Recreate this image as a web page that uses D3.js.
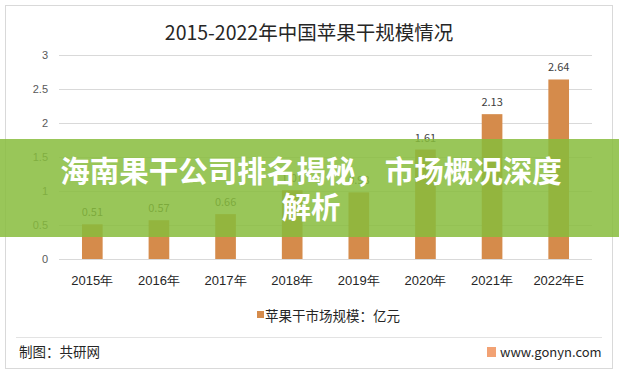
<!DOCTYPE html>
<html><head><meta charset="utf-8">
<script src="https://cdn.jsdelivr.net/npm/d3@7"></script>
<style>body{margin:0;background:#fff;}svg{display:block;font-family:"Noto Sans CJK SC","Microsoft YaHei",sans-serif;}</style>
</head><body>
<script>
const categories = ["2015年","2016年","2017年","2018年","2019年","2020年","2021年","2022年E"];
const values = [0.51,0.57,0.66,1.01,0.98,1.61,2.13,2.64];
const valueLabels = ["0.51","0.57","0.66","1.01","0.98","1.61","2.13","2.64"];
const yTicks = [0,0.5,1,1.5,2,2.5,3];
const title = "2015-2022年中国苹果干规模情况";
const legendLabel = "苹果干市场规模：亿元";
const bannerLines = ["海南果干公司排名揭秘，市场概况深度","解析"];

const W = 619, H = 376;
const svg = d3.select("body").append("svg").attr("width", W).attr("height", H);
svg.append("rect").attr("x",0).attr("y",0).attr("width",W).attr("height",H).attr("fill","#fff");
svg.append("rect").attr("x",5.5).attr("y",5.5).attr("width",607).attr("height",363)
  .attr("fill","none").attr("stroke","#d9d9d9");

svg.append("text").attr("x",309).attr("y",40).attr("text-anchor","middle")
  .attr("font-size",19.5).attr("fill","#262626").text(title);

const x = d3.scaleBand().domain(categories).range([59,592]).paddingInner(0.69).paddingOuter(0.345);
const y = d3.scaleLinear().domain([0,3]).range([259,55]);

const grid = svg.append("g");
grid.selectAll("line").data(yTicks).join("line")
  .attr("x1",59).attr("x2",592).attr("y1",d=>Math.round(y(d))+0.5).attr("y2",d=>Math.round(y(d))+0.5)
  .attr("stroke","#d9d9d9").attr("stroke-width",1);

const yAxis = svg.append("g").attr("transform","translate(48,0)")
  .call(d3.axisLeft(y).tickValues(yTicks).tickSize(0).tickPadding(0).tickFormat(d3.format("~g")));
yAxis.select(".domain").remove();
yAxis.selectAll("text").attr("font-size",11).attr("fill","#595959");

svg.append("g").selectAll("rect").data(values).join("rect")
  .attr("x",(d,i)=>x(categories[i])).attr("width",x.bandwidth())
  .attr("y",d=>y(d)).attr("height",d=>y(0)-y(d)).attr("fill","#d58b4b");

svg.append("g").selectAll("text").data(values).join("text")
  .attr("x",(d,i)=>x(categories[i])+x.bandwidth()/2).attr("y",d=>y(d)-8)
  .attr("text-anchor","middle").attr("font-size",11).attr("fill","#404040")
  .text((d,i)=>valueLabels[i]);

const xAxis = svg.append("g").attr("transform","translate(0,259)")
  .call(d3.axisBottom(x).tickSize(0).tickPadding(17));
xAxis.select(".domain").remove();
xAxis.selectAll("text").attr("font-size",13).attr("fill","#262626");

svg.append("rect").attr("x",257).attr("y",311).attr("width",7).attr("height",7).attr("fill","#d58b4b");
svg.append("text").attr("x",265).attr("y",321).attr("font-size",13.5).attr("fill","#262626").text(legendLabel);

svg.append("line").attr("x1",16).attr("x2",602).attr("y1",337.5).attr("y2",337.5).attr("stroke","#e3e3e3");
svg.append("text").attr("x",19).attr("y",357).attr("font-size",13.5).attr("fill","#262626").text("制图：共研网");
svg.append("rect").attr("x",487).attr("y",347).attr("width",9).attr("height",10).attr("fill","#f2a274");
svg.append("text").attr("x",500).attr("y",357).attr("font-size",13).attr("fill","#262626").text("www.gonyn.com");

// banner overlay
svg.append("rect").attr("x",0).attr("y",139).attr("width",W).attr("height",98)
  .attr("fill","rgb(135,188,60)").attr("fill-opacity",0.85);
svg.append("g").selectAll("text").data(bannerLines).join("text")
  .attr("x",311).attr("y",(d,i)=>182+i*36).attr("text-anchor","middle")
  .attr("font-size",29.5).attr("font-weight","bold").attr("fill","#fff").text(d=>d);
</script>
</body></html>
